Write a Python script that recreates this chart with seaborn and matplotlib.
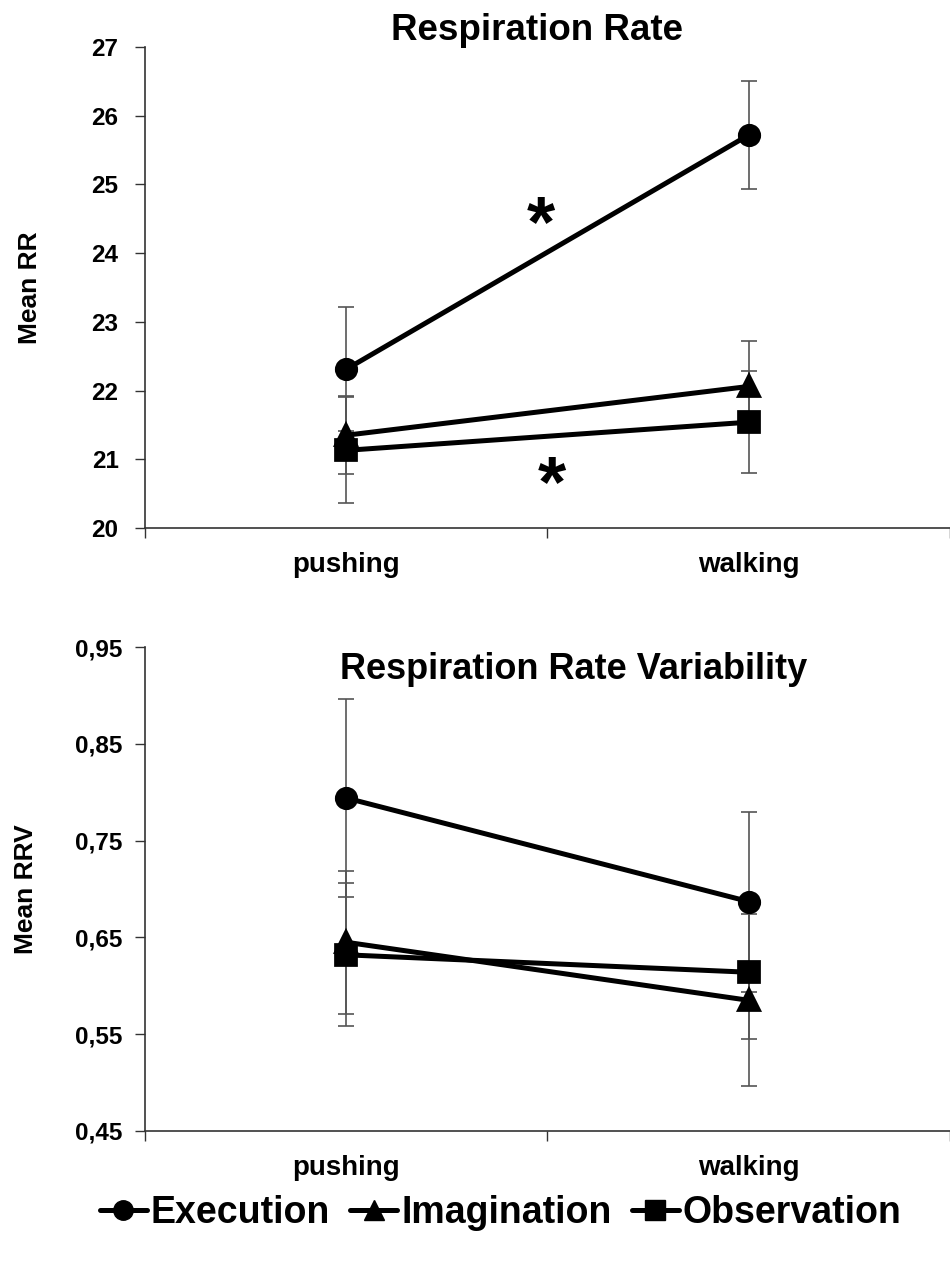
import matplotlib
matplotlib.use("Agg")
import matplotlib.pyplot as plt
from matplotlib.lines import Line2D
import seaborn as sns
import pandas as pd

# data
tasks = ["pushing", "walking"]
conditions = ["Execution", "Imagination", "Observation"]
markers = ["o", "^", "s"]

rr_mean = {"Execution": [22.31, 25.72], "Imagination": [21.35, 22.06], "Observation": [21.13, 21.54]}
rr_err = {"Execution": [0.90, 0.79], "Imagination": [0.57, 0.66], "Observation": [0.77, 0.74]}

rrv_mean = {"Execution": [0.794, 0.687], "Imagination": [0.645, 0.585], "Observation": [0.632, 0.614]}
rrv_err = {"Execution": [0.102, 0.093], "Imagination": [0.074, 0.089], "Observation": [0.074, 0.069]}

rr_ticks = [20, 21, 22, 23, 24, 25, 26, 27]
rrv_ticks = [0.45, 0.55, 0.65, 0.75, 0.85, 0.95]
rrv_ticklabels = ["0,45", "0,55", "0,65", "0,75", "0,85", "0,95"]


def to_frame(means):
    rows = []
    for c in conditions:
        for t, v in zip(tasks, means[c]):
            rows.append({"task": t, "condition": c, "value": v})
    return pd.DataFrame(rows)


sns.set_theme(style="white")
plt.rcParams["font.family"] = ["Liberation Sans", "DejaVu Sans"]
plt.rcParams["font.weight"] = "bold"
plt.rcParams["text.color"] = "black"
plt.rcParams["axes.labelcolor"] = "black"
plt.rcParams["xtick.color"] = "black"
plt.rcParams["ytick.color"] = "black"

fig = plt.figure(figsize=(9.5, 12.61), dpi=100)
ax1 = fig.add_axes([0.1526, 0.5813, 0.8474, 0.3814])
ax2 = fig.add_axes([0.1526, 0.1031, 0.8474, 0.3838])


def draw(ax, means, errs, ticks, ticklabels, ylabel, label_x, ypad):
    df = to_frame(means)
    # error bars first so markers sit on top
    for c in conditions:
        ax.errorbar([0, 1], means[c], yerr=errs[c], fmt="none", ecolor="#555555",
                    elinewidth=1.2, capsize=6, capthick=1.2, zorder=1)
    sns.pointplot(data=df, x="task", y="value", hue="condition", order=tasks,
                  hue_order=conditions, markers=markers, palette=["black"] * 3,
                  errorbar=None, legend=False, ax=ax, markersize=14, linewidth=3.6,
                  zorder=3)
    ax.set_xlim(-0.5, 1.5)
    ax.set_ylim(ticks[0], ticks[-1])
    ax.set_yticks(ticks)
    ax.set_yticklabels(ticklabels if ticklabels else [str(t) for t in ticks],
                       fontsize=17.5, fontweight="bold")
    ax.set_xticks([-0.5, 0.5, 1.5])
    ax.set_xticklabels([])
    ax.set_xticks([0, 1], minor=True)
    ax.set_xticklabels(tasks, minor=True, fontsize=20, fontweight="bold")
    ax.tick_params(axis="x", which="major", direction="out", length=7, width=1, color="#333333", bottom=True)
    ax.tick_params(axis="x", which="minor", length=0, pad=17)
    ax.tick_params(axis="y", direction="out", length=7, width=1, color="#333333", left=True, pad=ypad)
    ax.set_xlabel("")
    ax.set_ylabel(ylabel, fontsize=19, fontweight="bold")
    ax.yaxis.set_label_coords(label_x, 0.5)
    for s in ["top", "right"]:
        ax.spines[s].set_visible(False)
    for s in ["left", "bottom"]:
        ax.spines[s].set_color("#333333")
        ax.spines[s].set_linewidth(1.2)


draw(ax1, rr_mean, rr_err, rr_ticks, None, "Mean RR", -0.128, 12)
draw(ax2, rrv_mean, rrv_err, rrv_ticks, rrv_ticklabels, "Mean RRV", -0.133, 9)

ax1.text(0.487, 1.034, "Respiration Rate", transform=ax1.transAxes,
         ha="center", va="center", fontsize=26.5, fontweight="bold")
ax2.text(0.532, 0.99, "Respiration Rate Variability", transform=ax2.transAxes,
         ha="center", va="top", fontsize=26, fontweight="bold")

# significance marks
ax1.text(0.484, 24.38, "*", ha="center", va="center", fontsize=52, fontweight="bold")
ax1.text(0.510, 20.6, "*", ha="center", va="center", fontsize=52, fontweight="bold")

handles = [Line2D([], [], color="black", marker=m, markersize=14, linewidth=3.6)
           for m in markers]
fig.legend(handles, conditions, loc="center", bbox_to_anchor=(0.527, 0.038), ncol=3,
           frameon=False, handlelength=1.25, handletextpad=0.1, columnspacing=0.55,
           prop={"size": 27, "weight": "bold"})

fig.savefig("out.png", dpi=100)
